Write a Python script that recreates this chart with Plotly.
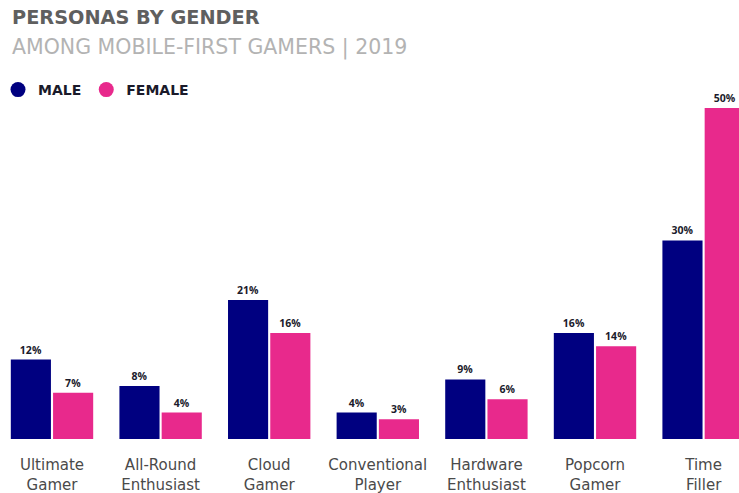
import plotly.graph_objects as go

categories = ["Ultimate<br>Gamer", "All-Round<br>Enthusiast", "Cloud<br>Gamer",
              "Conventional<br>Player", "Hardware<br>Enthusiast", "Popcorn<br>Gamer",
              "Time<br>Filler"]
male = [12, 8, 21, 4, 9, 16, 30]
female = [7, 4, 16, 3, 6, 14, 50]
male_labels = [f"{v}%" for v in male]
female_labels = [f"{v}%" for v in female]

NAVY = "#000080"
PINK = "#E8298C"

fig = go.Figure()
label_font = dict(family="Open Sans", size=10.5, color="#1b1b2b", weight="bold")
fig.add_trace(go.Bar(x=categories, y=male, text=male_labels, textposition="outside",
                     textfont=label_font, marker=dict(color=NAVY, line=dict(width=0)),
                     showlegend=False, cliponaxis=False))
fig.add_trace(go.Bar(x=categories, y=female, text=female_labels, textposition="outside",
                     textfont=label_font, marker=dict(color=PINK, line=dict(width=0)),
                     showlegend=False, cliponaxis=False))
# legend entries with circle markers
fig.add_trace(go.Scatter(x=[None], y=[None], mode="markers", name="MALE",
                         marker=dict(color=NAVY, size=15, symbol="circle")))
fig.add_trace(go.Scatter(x=[None], y=[None], mode="markers", name="FEMALE",
                         marker=dict(color=PINK, size=15, symbol="circle")))

top = 70
bottom = 439
pxper = 6.62
cat_w = 108.6
first_c = 52
H_plot = bottom - top

fig.update_layout(
    width=739, height=493,
    margin=dict(l=0, r=0, t=top, b=493 - bottom, autoexpand=False),
    plot_bgcolor="white", paper_bgcolor="white",
    barmode="group", bargap=0.222, bargroupgap=0.05,
    xaxis=dict(range=[-first_c / cat_w, (739 - first_c) / cat_w], automargin=False,
               showgrid=False, zeroline=False, showline=False,
               ticks="outside", ticklen=12, tickcolor="rgba(0,0,0,0)",
               tickfont=dict(family="DejaVu Sans", size=15, color="#4a4a4a")),
    yaxis=dict(range=[0, H_plot / pxper], visible=False, automargin=False),
    legend=dict(orientation="h", x=-2 / 739, xanchor="left", y=1 - (90 - top) / H_plot,
                yanchor="middle", bgcolor="rgba(0,0,0,0)",
                font=dict(family="DejaVu Sans", size=14, color="#1a1a2a", weight="bold")),
    annotations=[
        dict(text="PERSONAS BY GENDER", xref="paper", yref="paper",
             x=10 / 739, y=1 + (top - 17) / H_plot, xanchor="left", yanchor="middle",
             showarrow=False,
             font=dict(family="DejaVu Sans", size=19.3, color="#5f5f5f", weight="bold")),
        dict(text="AMONG MOBILE-FIRST GAMERS | 2019", xref="paper", yref="paper",
             x=10 / 739, y=1 + (top - 47) / H_plot, xanchor="left", yanchor="middle",
             showarrow=False,
             font=dict(family="DejaVu Sans", size=20.5, color="#b3b3b3")),
    ],
)

fig.write_html("out.html")
